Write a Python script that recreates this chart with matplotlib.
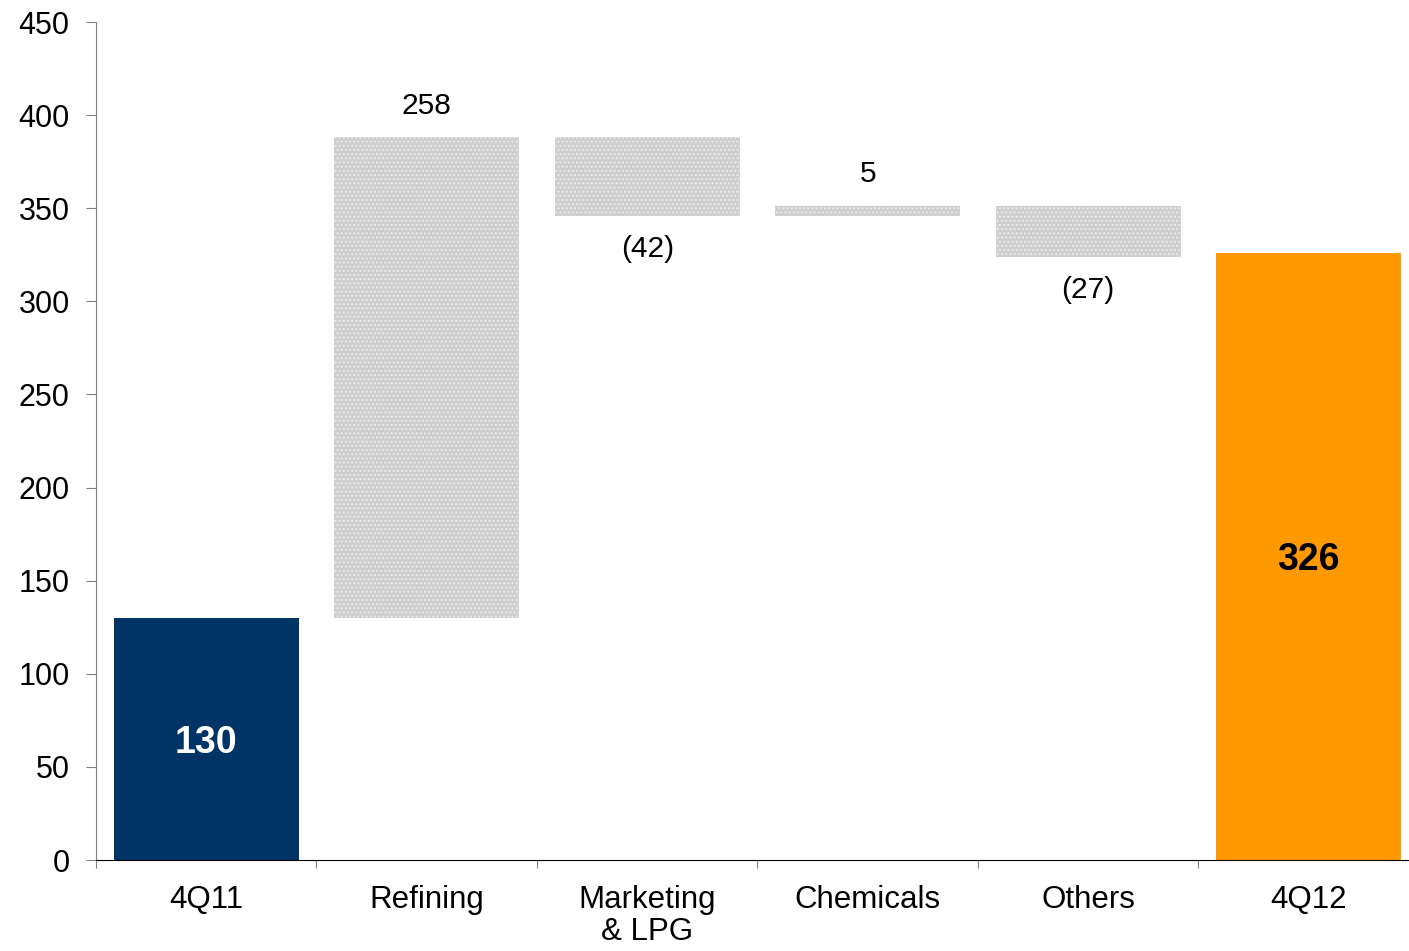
import numpy as np
import matplotlib.pyplot as plt

plt.rcParams['font.family'] = ['Liberation Sans', 'DejaVu Sans']

# waterfall data
categories = ['4Q11', 'Refining', 'Marketing\n& LPG', 'Chemicals', 'Others', '4Q12']
start_value = 130
deltas = [258, -42, 5, -27]
end_value = 326
delta_labels = ['258', '(42)', '5', '(27)']

fig = plt.figure(figsize=(14.09, 9.51), dpi=100)
# the plot area runs a little past the right edge of the picture
ax = fig.add_axes([96/1409, 1 - 860/951, 1323/1409, (860 - 22)/951])

x = np.arange(len(categories))
w = 0.84

# totals
ax.bar(x[0], start_value, width=w, color='#003366', zorder=2)
ax.bar(x[-1], end_value, width=w, color='#FF9900', zorder=2)
ax.text(x[0], start_value/2, str(start_value), ha='center', va='center_baseline',
        fontsize=27, fontweight='bold', color='white')
ax.text(x[-1], end_value/2, str(end_value), ha='center', va='center_baseline',
        fontsize=27, fontweight='bold', color='black')

# floating steps
level = start_value
for i, d in enumerate(deltas):
    lo, hi = min(level, level + d), max(level, level + d)
    ax.bar(x[i + 1], hi - lo, bottom=lo, width=w, facecolor='#cdcdcd',
           edgecolor='#ebebeb', hatch='....', linewidth=0, zorder=2)
    if d >= 0:
        ax.annotate(delta_labels[i], (x[i + 1], hi), xytext=(0, 23),
                    textcoords='offset points', ha='center', va='center', fontsize=21.5)
    else:
        ax.annotate(delta_labels[i], (x[i + 1], lo), xytext=(0, -24),
                    textcoords='offset points', ha='center', va='center', fontsize=21.5)
    level += d

ax.set_xlim(-0.5, len(categories) - 0.5)
ax.set_ylim(0, 450)
ax.set_yticks(np.arange(0, 451, 50))
ax.tick_params(axis='y', labelsize=22, length=7, color='#808080', direction='out', pad=12)

ax.set_xticks(np.arange(-0.5, len(categories) - 0.5, 1))
ax.set_xticklabels([])
ax.set_xticks(x, minor=True)
ax.set_xticklabels(categories, minor=True, fontsize=22.5, linespacing=1.1)
ax.tick_params(axis='x', which='major', length=6, color='#808080', direction='out')
ax.tick_params(axis='x', which='minor', length=0, pad=18)
for lab in ax.get_xticklabels(minor=True):
    lab.set_verticalalignment('top')

ax.spines['top'].set_visible(False)
ax.spines['right'].set_visible(False)
ax.spines['left'].set_color('#808080')
ax.spines['bottom'].set_color('black')

fig.savefig('out.png', dpi=100)
